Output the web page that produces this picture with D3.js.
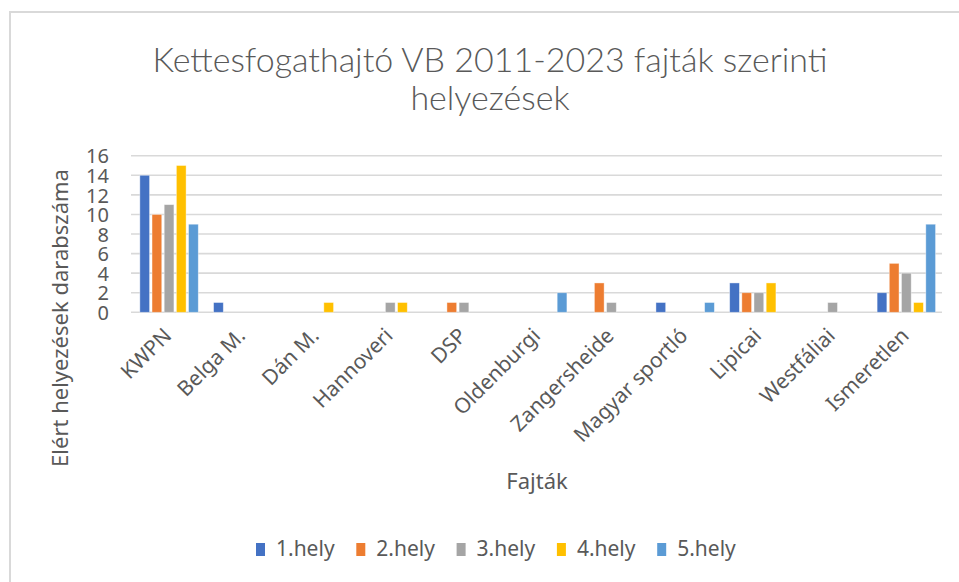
<!DOCTYPE html>
<html>
<head>
<meta charset="utf-8">
<script src="https://cdn.jsdelivr.net/npm/d3@7"></script>
<style>
  body { margin: 0; background: #fff; }
  svg { display: block; }
  text { fill: #595959; }
</style>
</head>
<body>
<div id="chart"></div>
<script>
const width = 959;
const height = 582;
const labelFont = "Noto Sans";

const titleLines = ["Kettesfogathajtó VB 2011-2023 fajták szerinti", "helyezések"];
const yLabel = "Elért helyezések darabszáma";
const xLabel = "Fajták";

const breeds = ["KWPN", "Belga M.", "Dán M.", "Hannoveri", "DSP", "Oldenburgi",
	"Zangersheide", "Magyar sportló", "Lipicai", "Westfáliai", "Ismeretlen"];
const places = ["1.hely", "2.hely", "3.hely", "4.hely", "5.hely"];
const colors = ["#4472C4", "#ED7D31", "#A5A5A5", "#FFC000", "#5B9BD5"];

// one array per place, in breed order
const place1 = [14, 1, 0, 0, 0, 0, 0, 1, 3, 0, 2];
const place2 = [10, 0, 0, 0, 1, 0, 3, 0, 2, 0, 5];
const place3 = [11, 0, 0, 1, 1, 0, 1, 0, 2, 1, 4];
const place4 = [15, 0, 1, 1, 0, 0, 0, 0, 3, 0, 1];
const place5 = [9, 0, 0, 0, 0, 2, 0, 1, 0, 0, 9];
const yTicks = [0, 2, 4, 6, 8, 10, 12, 14, 16];

const series = [place1, place2, place3, place4, place5];

const plot = { left: 131, right: 942, top: 155.7, bottom: 312.3 };

const svg = d3.select("#chart").append("svg")
	.attr("width", width)
	.attr("height", height);

// chart border (only top and left visible in the crop)
svg.append("rect")
	.attr("x", 10).attr("y", 12)
	.attr("width", 980).attr("height", 600)
	.attr("fill", "none")
	.attr("stroke", "#d9d9d9")
	.attr("stroke-width", 2);

svg.append("g")
	.selectAll("text")
	.data(titleLines)
	.join("text")
	.attr("x", 490)
	.attr("y", (d, i) => 72 + i * 38)
	.attr("text-anchor", "middle")
	.attr("font-family", "Lato")
	.attr("font-weight", 300)
	.attr("font-size", 34)
	.text(d => d);

const x0 = d3.scaleBand()
	.domain(breeds)
	.range([plot.left, plot.right]);

const bw0 = x0.bandwidth();
const x1 = d3.scaleBand()
	.domain(places)
	.range([bw0 * 0.12, bw0 * 0.88 + 2.4])
	.paddingInner(0.2);

const y = d3.scaleLinear()
	.domain([0, 16])
	.range([plot.bottom, plot.top]);

// gridlines
svg.append("g")
	.selectAll("line")
	.data(yTicks)
	.join("line")
	.attr("x1", plot.left).attr("x2", plot.right)
	.attr("y1", d => y(d)).attr("y2", d => y(d))
	.attr("stroke", "#d9d9d9")
	.attr("stroke-width", 1.6);

// y tick labels
svg.append("g")
	.call(d3.axisLeft(y).tickValues(yTicks).tickSize(0).tickPadding(0))
	.attr("transform", "translate(109,0)")
	.call(g => g.select(".domain").remove())
	.selectAll("text")
	.attr("font-family", labelFont)
	.attr("font-size", 20)
	.attr("fill", "#595959")
	.attr("dy", "0.36em");

// bars
const groups = svg.append("g")
	.selectAll("g")
	.data(breeds)
	.join("g")
	.attr("transform", d => `translate(${x0(d)},0)`);

groups.selectAll("rect")
	.data((b, i) => series.map((s, k) => ({ place: places[k], value: s[i], color: colors[k] })))
	.join("rect")
	.filter(d => d.value > 0)
	.attr("x", d => x1(d.place))
	.attr("y", d => y(d.value))
	.attr("width", x1.bandwidth())
	.attr("height", d => y(0) - y(d.value))
	.attr("fill", d => d.color)
	.attr("stroke", "#fff")
	.attr("stroke-opacity", 0.5)
	.attr("stroke-width", 0.8);

// x tick labels, rotated
svg.append("g")
	.selectAll("text")
	.data(breeds)
	.join("text")
	.attr("transform", d => `translate(${x0(d) + bw0 / 2 + 5},337) rotate(-45)`)
	.attr("text-anchor", "end")
	.attr("font-family", labelFont)
	.attr("font-size", 21)
	.text(d => d);

// axis titles
svg.append("text")
	.attr("transform", "translate(68,318) rotate(-90)")
	.attr("text-anchor", "middle")
	.attr("font-family", labelFont)
	.attr("font-size", 22)
	.text(yLabel);

svg.append("text")
	.attr("x", 537).attr("y", 489)
	.attr("text-anchor", "middle")
	.attr("font-family", labelFont)
	.attr("font-size", 22)
	.text(xLabel);

// legend
const legend = svg.append("g")
	.selectAll("g")
	.data(places)
	.join("g")
	.attr("transform", (d, i) => `translate(${256 + i * 100.3},0)`);

legend.append("rect")
	.attr("x", 0).attr("y", 543)
	.attr("width", 9).attr("height", 13)
	.attr("fill", (d, i) => colors[i]);

legend.append("text")
	.attr("x", 20).attr("y", 556)
	.attr("font-family", labelFont)
	.attr("font-size", 21)
	.text(d => d);
</script>
</body>
</html>
